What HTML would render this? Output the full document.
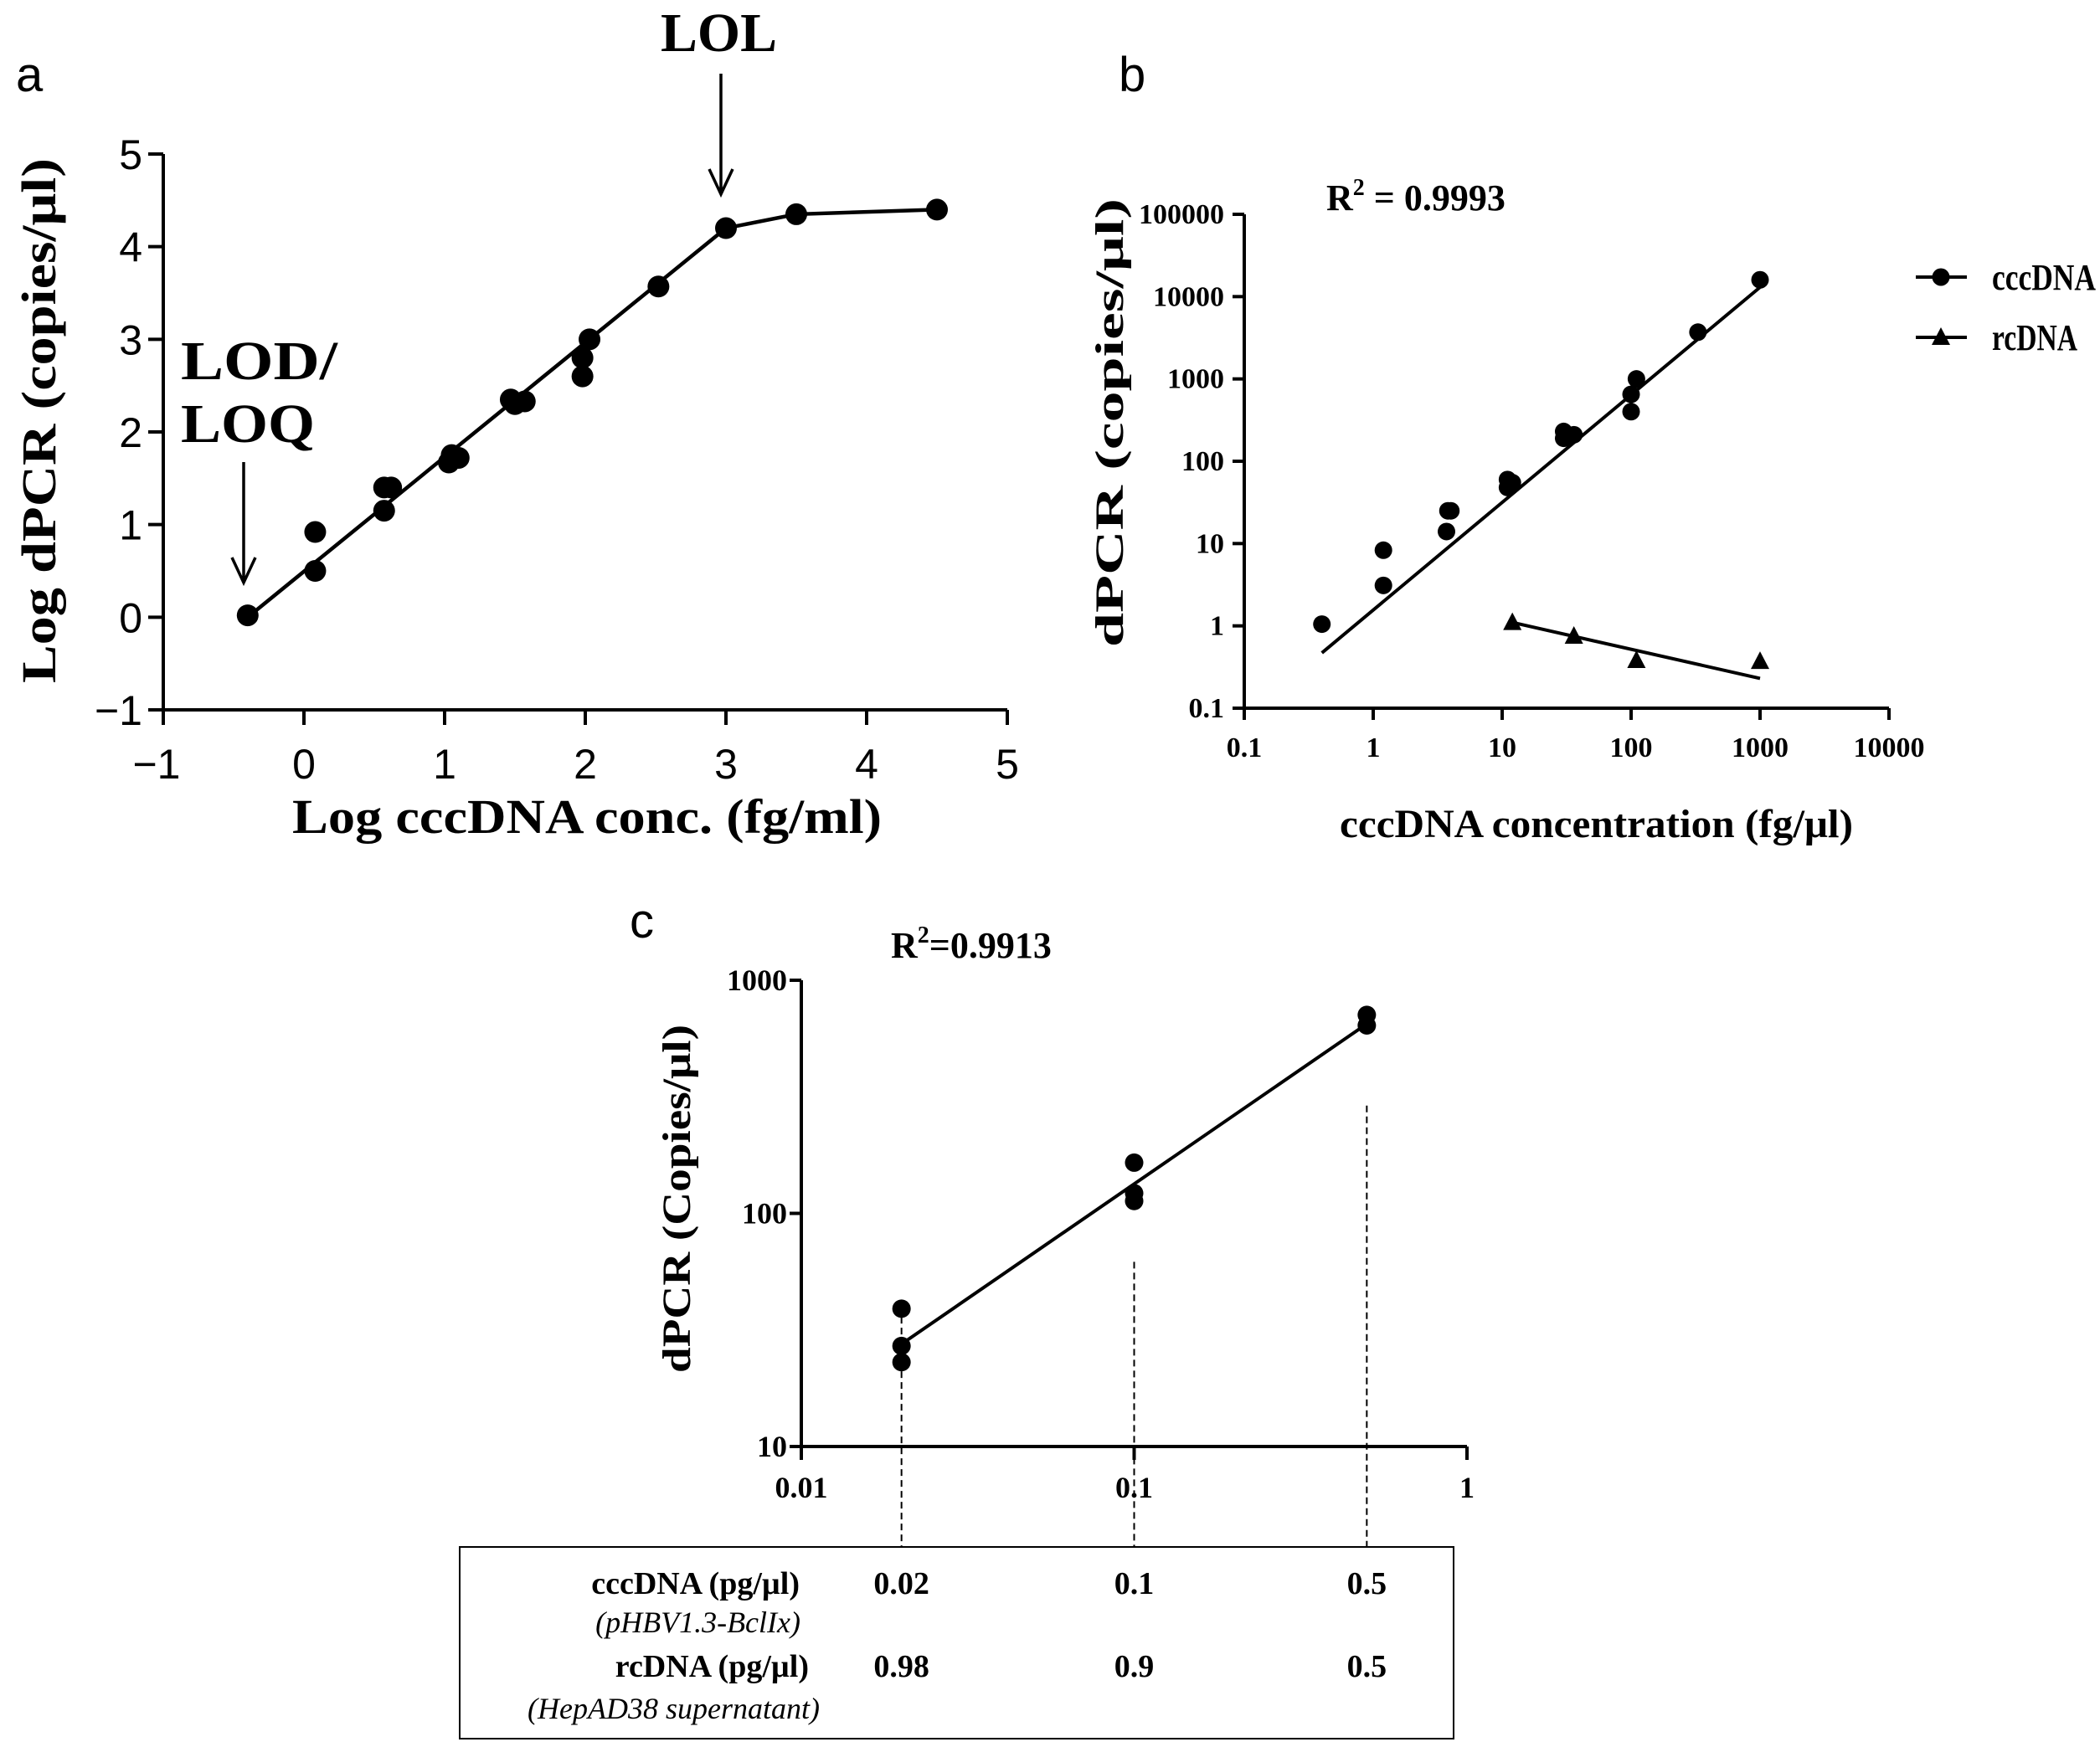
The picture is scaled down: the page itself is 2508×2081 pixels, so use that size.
<!DOCTYPE html>
<html><head><meta charset="utf-8">
<style>
html,body{margin:0;padding:0;background:#fff;}
svg{display:block;}
.sans{font-family:"Liberation Sans",sans-serif;}
.serif{font-family:"Liberation Serif",serif;font-weight:bold;}
</style></head>
<body>
<svg id="fig" width="2508" height="2081" viewBox="0 0 2508 2081" xmlns="http://www.w3.org/2000/svg">
<rect x="0" y="0" width="2508" height="2081" fill="#fff"/>
<g id="pa"></g>
<g id="pb"></g>
<g id="pc"></g>
</svg>
<script>
// ---- Panel a data ----
const aX = [-0.4, 0.08, 0.08, 0.57, 0.62, 0.57, 1.05, 1.1, 1.03, 1.47, 1.5, 1.57, 1.98, 1.98, 2.03, 2.52, 3.0, 3.5, 4.5];
const aY = [0.02, 0.92, 0.5, 1.4, 1.4, 1.15, 1.75, 1.72, 1.67, 2.35, 2.3, 2.33, 2.8, 2.6, 3.0, 3.57, 4.2, 4.35, 4.4];
const aLineX = [-0.4, 3.0, 3.5, 4.5];
const aLineY = [0.0, 4.2, 4.35, 4.4];
const aXTicks = [-1, 0, 1, 2, 3, 4, 5];
const aYTicks = [-1, 0, 1, 2, 3, 4, 5];
// ---- Panel b data ----
const bCccX = [0.4, 1.2, 1.2, 3.7, 3.8, 4.0, 11, 11, 12, 30, 30, 36, 100, 100, 110, 330, 1000];
const bCccY = [1.05, 8.3, 3.1, 14, 25, 25, 60, 48, 55, 230, 190, 210, 650, 400, 1000, 3700, 16000];
const bCccFitX = [0.4, 1000];
const bCccFitY = [0.47, 13000];
const bRcX = [12, 36, 110, 1000];
const bRcY = [1.1, 0.75, 0.38, 0.37];
const bRcFitX = [12, 1000];
const bRcFitY = [1.1, 0.23];
const bXTicks = [0.1, 1, 10, 100, 1000, 10000];
const bYTicks = [0.1, 1, 10, 100, 1000, 10000, 100000];
// ---- Panel c data ----
const cX = [0.02, 0.02, 0.02, 0.1, 0.1, 0.1, 0.5, 0.5];
const cY = [39, 27, 23, 165, 122, 113, 710, 640];
const cFitX = [0.02, 0.5];
const cFitY = [27.5, 650];
const cXTicks = [0.01, 0.1, 1];
const cXTickLabels = ["0.01", "0.1", "1"];
const cYTicks = [10, 100, 1000];
const cTableX = [0.02, 0.1, 0.5];
const cCccVals = ["0.02", "0.1", "0.5"];
const cRcVals = ["0.98", "0.9", "0.5"];
const cDashTop = [36, 62, 290];

const NS = "http://www.w3.org/2000/svg";
function mk(parent, tag, attrs, text){
  const e = document.createElementNS(NS, tag);
  for (const k in attrs) e.setAttribute(k, attrs[k]);
  if (text !== undefined) e.textContent = text;
  parent.appendChild(e);
  return e;
}
const lin = (d0,d1,r0,r1)=>v=>r0+(v-d0)/(d1-d0)*(r1-r0);
const lg = (d0,d1,r0,r1)=>v=>r0+(Math.log10(v)-Math.log10(d0))/(Math.log10(d1)-Math.log10(d0))*(r1-r0);

// ================= Panel A =================
(function(){
  const g = document.getElementById('pa');
  const x = lin(-1,5,195,1203), y = lin(-1,5,848,184);
  let e;
  e = mk(g,'line',{x1:195,y1:184,x2:195,y2:848,stroke:'#000','stroke-width':4});
   
  e = mk(g,'line',{x1:195,y1:848,x2:1203,y2:848,stroke:'#000','stroke-width':4});
   
  aXTicks.forEach(t=>{
    e = mk(g,'line',{x1:x(t),y1:848,x2:x(t),y2:866,stroke:'#000','stroke-width':4});
     
    e = mk(g,'text',{x:x(t)-(t<0?8:0),y:930,'text-anchor':'middle','font-size':50,class:'sans'}, t<0?'\u2212'+(-t):String(t));
     
  });
  aYTicks.forEach(t=>{
    e = mk(g,'line',{x1:177,y1:y(t),x2:195,y2:y(t),stroke:'#000','stroke-width':4});
     
    e = mk(g,'text',{x:170,y:y(t)+18,'text-anchor':'end','font-size':50,class:'sans'}, t<0?'\u2212'+(-t):String(t));
     
  });
  let pts = aLineX.map((v,i)=>x(v)+','+y(aLineY[i])).join(' ');
  e = mk(g,'polyline',{points:pts,fill:'none',stroke:'#000','stroke-width':4.5});
   
  aX.forEach((v,i)=>{
    e = mk(g,'circle',{cx:x(v),cy:y(aY[i]),r:13,fill:'#000'});
     
  });
  e = mk(g,'text',{x:19,y:109,'font-size':58,class:'sans'},'a');
   
  e = mk(g,'text',{x:349,y:995,'font-size':58,class:'serif',textLength:704,lengthAdjust:'spacingAndGlyphs'},'Log cccDNA conc. (fg/ml)');
   
  e = mk(g,'text',{x:0,y:0,'font-size':58,class:'serif',textLength:627,lengthAdjust:'spacingAndGlyphs',transform:'translate(66,816) rotate(-90)'},'Log dPCR (copies/\u03bcl)');
   
  e = mk(g,'text',{x:789,y:61,'font-size':66,class:'serif',textLength:139,lengthAdjust:'spacingAndGlyphs'},'LOL');
   
  e = mk(g,'text',{x:216,y:453,'font-size':66,class:'serif',textLength:187,lengthAdjust:'spacingAndGlyphs'},'LOD/');
   
  e = mk(g,'text',{x:216,y:528,'font-size':66,class:'serif',textLength:160,lengthAdjust:'spacingAndGlyphs'},'LOQ');
   
  [[861,88,232],[291,552,696]].forEach(a=>{
    e = mk(g,'path',{d:`M${a[0]},${a[1]} L${a[0]},${a[2]} M${a[0]-14},${a[2]-30} L${a[0]},${a[2]} L${a[0]+14},${a[2]-30}`,fill:'none',stroke:'#000','stroke-width':3.5});
     
  });
})();

// ================= Panel B =================
(function(){
  const g = document.getElementById('pb');
  const x = lg(0.1,10000,1486,2256), y = lg(0.1,100000,846,256);
  let e;
  e = mk(g,'line',{x1:1486,y1:256,x2:1486,y2:846,stroke:'#000','stroke-width':4});
   
  e = mk(g,'line',{x1:1486,y1:846,x2:2256,y2:846,stroke:'#000','stroke-width':4});
   
  bXTicks.forEach(t=>{
    e = mk(g,'line',{x1:x(t),y1:846,x2:x(t),y2:860,stroke:'#000','stroke-width':4});
     
    e = mk(g,'text',{x:x(t),y:904,'text-anchor':'middle','font-size':34,class:'serif'},String(t));
     
  });
  bYTicks.forEach(t=>{
    e = mk(g,'line',{x1:1472,y1:y(t),x2:1486,y2:y(t),stroke:'#000','stroke-width':4});
     
    e = mk(g,'text',{x:1462,y:y(t)+11,'text-anchor':'end','font-size':34,class:'serif'},String(t));
     
  });
  e = mk(g,'line',{x1:x(bCccFitX[0]),y1:y(bCccFitY[0]),x2:x(bCccFitX[1]),y2:y(bCccFitY[1]),stroke:'#000','stroke-width':4});
   
  e = mk(g,'line',{x1:x(bRcFitX[0]),y1:y(bRcFitY[0]),x2:x(bRcFitX[1]),y2:y(bRcFitY[1]),stroke:'#000','stroke-width':4});
   
  bCccX.forEach((v,i)=>{
    e = mk(g,'circle',{cx:x(v),cy:y(bCccY[i]),r:10.5,fill:'#000'});
     
  });
  bRcX.forEach((v,i)=>{
    const cx=x(v), cy=y(bRcY[i]);
    e = mk(g,'polygon',{points:`${cx},${cy-12} ${cx-11},${cy+9} ${cx+11},${cy+9}`,fill:'#000'});
     
  });
  e = mk(g,'text',{x:1336,y:109,'font-size':58,class:'sans'},'b');
   
  e = mk(g,'text',{x:1600,y:1000,'font-size':48,class:'serif',textLength:613,lengthAdjust:'spacingAndGlyphs'},'cccDNA concentration (fg/\u03bcl)');
   
  e = mk(g,'text',{x:0,y:0,'font-size':48,class:'serif',textLength:536,lengthAdjust:'spacingAndGlyphs',transform:'translate(1341,773) rotate(-90)'},'dPCR (copies/\u03bcl)');
   
  const r2 = mk(g,'text',{x:1584,y:251,'font-size':44,class:'serif'});
   
  mk(r2,'tspan',{},'R');
  mk(r2,'tspan',{dy:-18,'font-size':28},'2');
  mk(r2,'tspan',{dy:18},' = 0.9993');
  // legend
  e = mk(g,'line',{x1:2288,y1:331,x2:2349,y2:331,stroke:'#000','stroke-width':4});
   
  e = mk(g,'circle',{cx:2318,cy:331,r:10.5,fill:'#000'});
   
  e = mk(g,'text',{x:2379,y:346,'font-size':44,class:'serif',textLength:124,lengthAdjust:'spacingAndGlyphs'},'cccDNA');
   
  e = mk(g,'line',{x1:2288,y1:403,x2:2349,y2:403,stroke:'#000','stroke-width':4});
   
  e = mk(g,'polygon',{points:'2318,391 2307,412 2329,412',fill:'#000'});
   
  e = mk(g,'text',{x:2379,y:418,'font-size':44,class:'serif',textLength:102,lengthAdjust:'spacingAndGlyphs'},'rcDNA');
   
})();

// ================= Panel C =================
(function(){
  const g = document.getElementById('pc');
  const x = lg(0.01,1,957,1752), y = lg(10,1000,1728,1171);
  let e;
  e = mk(g,'line',{x1:957,y1:1171,x2:957,y2:1728,stroke:'#000','stroke-width':4});
   
  e = mk(g,'line',{x1:957,y1:1728,x2:1752,y2:1728,stroke:'#000','stroke-width':4});
   
  cXTicks.forEach((t,i)=>{
    e = mk(g,'line',{x1:x(t),y1:1728,x2:x(t),y2:1744,stroke:'#000','stroke-width':4});
     
    e = mk(g,'text',{x:x(t),y:1789,'text-anchor':'middle','font-size':36,class:'serif'},cXTickLabels[i]);
     
  });
  cYTicks.forEach(t=>{
    e = mk(g,'line',{x1:943,y1:y(t),x2:957,y2:y(t),stroke:'#000','stroke-width':4});
     
    e = mk(g,'text',{x:940,y:y(t)+12,'text-anchor':'end','font-size':36,class:'serif'},String(t));
     
  });
  cTableX.forEach((t,i)=>{
    e = mk(g,'line',{x1:x(t),y1:y(cDashTop[i]),x2:x(t),y2:1848,stroke:'#000','stroke-width':2,'stroke-dasharray':'8,5'});
     
  });
  e = mk(g,'line',{x1:x(cFitX[0]),y1:y(cFitY[0]),x2:x(cFitX[1]),y2:y(cFitY[1]),stroke:'#000','stroke-width':4});
   
  cX.forEach((v,i)=>{
    e = mk(g,'circle',{cx:x(v),cy:y(cY[i]),r:11,fill:'#000'});
     
  });
  e = mk(g,'text',{x:752,y:1120,'font-size':58,class:'sans'},'c');
   
  const r2 = mk(g,'text',{x:1064,y:1144,'font-size':44,class:'serif'});
   
  mk(r2,'tspan',{},'R');
  mk(r2,'tspan',{dy:-18,'font-size':28},'2');
  mk(r2,'tspan',{dy:18},'=0.9913');
  e = mk(g,'text',{x:0,y:0,'font-size':48,class:'serif',textLength:416,lengthAdjust:'spacingAndGlyphs',transform:'translate(824,1640) rotate(-90)'},'dPCR (Copies/\u03bcl)');
   
  // table
  e = mk(g,'rect',{x:549,y:1848,width:1187,height:229,fill:'none',stroke:'#000','stroke-width':2});
   
  e = mk(g,'text',{x:955,y:1904,'text-anchor':'end','font-size':38,class:'serif'},'cccDNA  (pg/\u00b5l)');
   
  e = mk(g,'text',{x:956,y:1950,'text-anchor':'end','font-size':36,'font-style':'italic','font-family':'Liberation Serif, serif'},'(pHBV1.3-BclIx)');
   
  e = mk(g,'text',{x:966,y:2003,'text-anchor':'end','font-size':38,class:'serif'},'rcDNA (pg/\u00b5l)');
   
  e = mk(g,'text',{x:979,y:2053,'text-anchor':'end','font-size':36,'font-style':'italic','font-family':'Liberation Serif, serif'},'(HepAD38 supernatant)');
   
  cTableX.forEach((t,i)=>{
    e = mk(g,'text',{x:x(t),y:1904,'text-anchor':'middle','font-size':38,class:'serif'},cCccVals[i]);
     
    e = mk(g,'text',{x:x(t),y:2003,'text-anchor':'middle','font-size':38,class:'serif'},cRcVals[i]);
     
  });
})();
</script>
</body></html>
